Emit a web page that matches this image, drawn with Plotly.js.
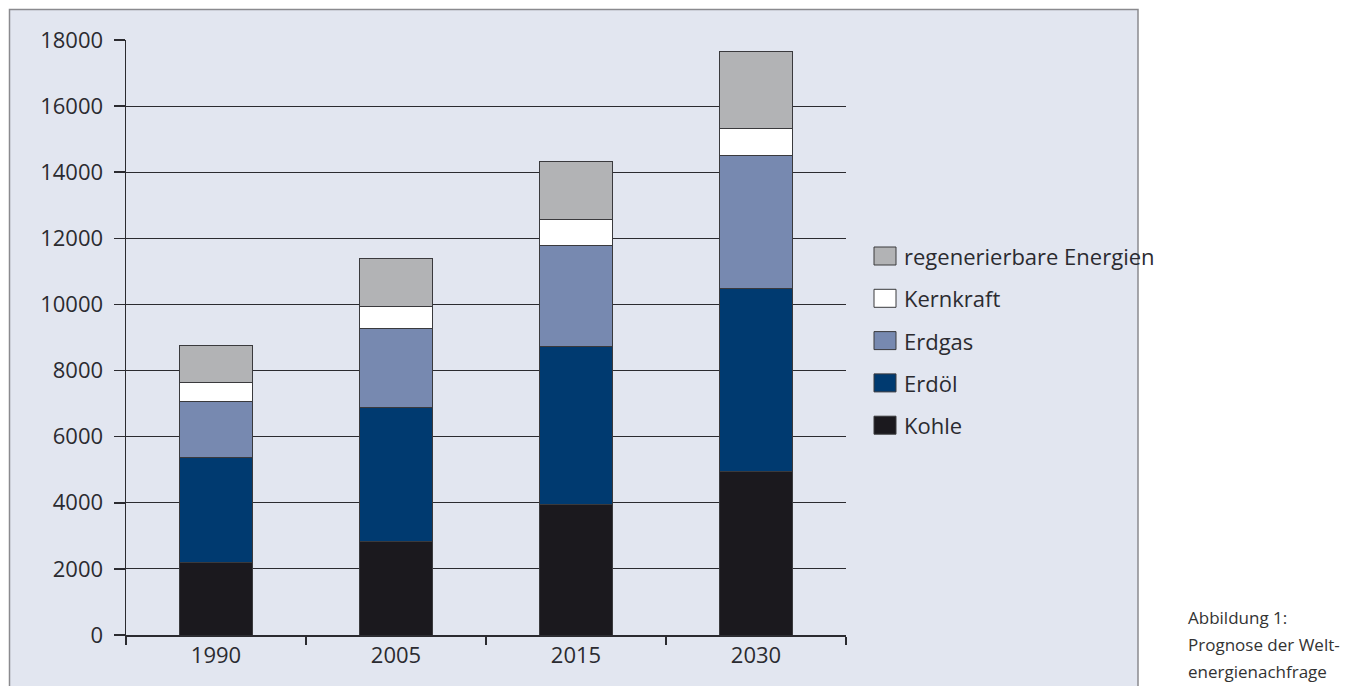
<!DOCTYPE html>
<html>
<head>
<meta charset="utf-8">
<script src="https://cdn.plot.ly/plotly-3.0.1.min.js"></script>
<style>html,body{margin:0;padding:0;background:#fff;}#chart{width:1347px;height:686px;}</style>
</head>
<body>
<div id="chart"></div>
<script>
// ---- data ----
const years = ["1990", "2005", "2015", "2030"];
const kohle = [2200, 2840, 3960, 4960];
const erdoel = [3180, 4050, 4760, 5510];
const erdgas = [1670, 2370, 3050, 4030];
const kernkraft = [575, 665, 790, 830];
const regenerativ = [1120, 1480, 1760, 2330];
const seriesNames = ["Kohle", "Erdöl", "Erdgas", "Kernkraft", "regenerierbare Energien"];
const seriesColors = ["#1b191e", "#003a70", "#7789b0", "#ffffff", "#b2b3b5"];
const yTicks = [0, 2000, 4000, 6000, 8000, 10000, 12000, 14000, 16000, 18000];
const captionLines = ["Abbildung 1:", "Prognose der Welt-", "energienachfrage"];

const seriesValues = [kohle, erdoel, erdgas, kernkraft, regenerativ];

// ---- layout geometry (pixels) ----
const W = 1347, H = 686;
const L = 126, R = 846, T = 40, B = 635;
const pw = R - L, ph = B - T;
const px = x => (x - L) / pw;
const py = y => (B - y) / ph;

const font = "Open Sans, Noto Sans, sans-serif";
const dark = "#2b2b30";

const traces = seriesValues.map((vals, i) => ({
  type: "bar",
  name: seriesNames[i],
  x: years,
  y: vals,
  width: 0.405,
  marker: {color: seriesColors[i], line: {color: "#3a3a3d", width: 1}},
  showlegend: false,
  hoverinfo: "x+y+name"
}));

const shapes = [];
const annotations = [];

// panel background
shapes.push({type: "rect", xref: "paper", yref: "paper", layer: "below",
  x0: px(9.5), x1: px(1138), y0: py(720), y1: py(9.5),
  fillcolor: "#e2e6f0", line: {color: "#8a8a8e", width: 1.5}});

// custom legend (top to bottom: reversed series order)
const legTop = 256, legStep = 42.3;
const order = [4, 3, 2, 1, 0];
order.forEach((si, k) => {
  const cy = legTop + k * legStep;
  shapes.push({type: "rect", xref: "paper", yref: "paper",
    x0: px(874), x1: px(896), y0: py(cy + 9), y1: py(cy - 9),
    fillcolor: seriesColors[si], line: {color: "#3a3a3d", width: 1}});
  annotations.push({xref: "paper", yref: "paper", x: px(902), y: py(cy),
    xanchor: "left", yanchor: "middle", showarrow: false,
    text: seriesNames[si], font: {family: font, size: 22, color: dark}});
});

// caption
captionLines.forEach((t, k) => {
  annotations.push({xref: "paper", yref: "paper", x: px(1186), y: py(617 + k * 27),
    xanchor: "left", yanchor: "middle", showarrow: false,
    text: t, font: {family: font, size: 17, color: "#333"}});
});

const layout = {
  width: W, height: H,
  margin: {l: L, r: W - R, t: T, b: H - B, pad: 0},
  paper_bgcolor: "#ffffff",
  plot_bgcolor: "rgba(0,0,0,0)",
  barmode: "stack",
  showlegend: false,
  font: {family: font, size: 22, color: dark},
  xaxis: {
    type: "category", range: [-0.5, 3.5],
    showline: true, linecolor: dark, linewidth: 1.5,
    ticks: "outside", tickson: "boundaries", ticklen: 8, tickcolor: dark, tickwidth: 1.5,
    showgrid: false, zeroline: false,
    tickfont: {family: font, size: 22, color: dark}
  },
  yaxis: {
    range: [0, 18000], tickvals: yTicks, ticktext: yTicks.map(String),
    showline: true, linecolor: dark, linewidth: 1.5,
    ticks: "outside", ticklen: 11, tickcolor: dark, tickwidth: 1.5,
    showgrid: true, gridcolor: dark, gridwidth: 1, zeroline: false,
    ticklabelstandoff: 6,
    tickfont: {family: font, size: 22, color: dark}
  },
  shapes: shapes,
  annotations: annotations
};

Plotly.newPlot("chart", traces, layout, {displayModeBar: false, staticPlot: true});
</script>
</body>
</html>
